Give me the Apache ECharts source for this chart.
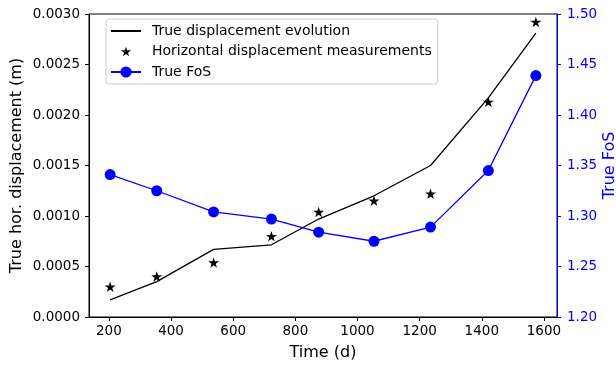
<!DOCTYPE html>
<html>
<head>
<meta charset="utf-8">
<script src="https://cdn.jsdelivr.net/npm/echarts@6/dist/echarts.min.js"></script>
<style>html,body{margin:0;padding:0;background:#fff}#c{width:616px;height:367px}</style>
</head>
<body>
<div id="c"></div>
<script>
const times = [204, 354, 537, 723, 875, 1053, 1235, 1421, 1574];
const trueDisp = [0.00017, 0.00035, 0.00067, 0.000715, 0.00097, 0.0012, 0.0015, 0.00217, 0.00281];
const measDisp = [0.0003, 0.0004, 0.00054, 0.0008, 0.00104, 0.00115, 0.00122, 0.00213, 0.00292];
const fos = [1.341, 1.325, 1.304, 1.297, 1.284, 1.275, 1.289, 1.345, 1.439];
const xTicks = [200, 400, 600, 800, 1000, 1200, 1400, 1600];
const seriesNames = ['True displacement evolution', 'Horizontal displacement measurements', 'True FoS'];

const FONT = 'DejaVu Sans';
const STAR = 'path://M50,0 L61.2,34.5 L97.6,34.5 L68.2,55.9 L79.4,90.5 L50,69.1 L20.6,90.5 L31.8,55.9 L2.4,34.5 L38.8,34.5 Z';
const STAR_LEG = 'path://M-15,-20 L-15,-19.5 L-14.5,-19.5 Z M115,110 L115,110.5 L114.5,110.5 Z M50,0 L61.2,34.5 L97.6,34.5 L68.2,55.9 L79.4,90.5 L50,69.1 L20.6,90.5 L31.8,55.9 L2.4,34.5 L38.8,34.5 Z';
const pair = (xs, ys) => xs.map((x, i) => [x, ys[i]]);

const chart = echarts.init(document.getElementById('c'), null, {renderer: 'canvas'});
chart.setOption({
  animation: false,
  backgroundColor: '#ffffff',
  grid: {left: 89, right: 59, top: 14, bottom: 50, containLabel: false, outerBoundsMode: 'none',
         show: true, borderColor: '#000', borderWidth: 1, backgroundColor: 'transparent'},
  legend: {
    orient: 'vertical', left: 106, top: 19,
    data: [
      {name: seriesNames[0], itemStyle: {opacity: 0}},
      {name: seriesNames[1], icon: STAR_LEG},
      {name: seriesNames[2]}
    ],
    itemWidth: 30, itemHeight: 14, itemGap: 6.5,
    padding: [5, 6, 5, 4],
    backgroundColor: 'rgba(255,255,255,0.85)', borderColor: '#cccccc', borderWidth: 1, borderRadius: 3,
    textStyle: {fontFamily: FONT, fontSize: 14, color: '#000', padding: [0, 0, 0, 6]}
  },
  xAxis: {
    type: 'value', min: 136, max: 1642,
    name: 'Time (d)', nameLocation: 'middle', nameGap: 28, nameMoveOverlap: false,
    nameTextStyle: {fontFamily: FONT, fontSize: 16, color: '#000'},
    axisLine: {show: true, lineStyle: {color: '#000', width: 1}},
    axisTick: {show: true, length: 4, customValues: xTicks, lineStyle: {color: '#000'}},
    axisLabel: {customValues: xTicks, fontFamily: FONT, fontSize: 13.5, color: '#000', margin: 7, formatter: v => String(v)},
    splitLine: {show: false}
  },
  yAxis: [{
    type: 'value', min: 0, max: 0.003, interval: 0.0005, position: 'left',
    name: 'True hor. displacement (m)', nameLocation: 'middle', nameGap: 64, nameMoveOverlap: false,
    nameTextStyle: {fontFamily: FONT, fontSize: 16, color: '#000'},
    axisLine: {show: true, lineStyle: {color: '#000', width: 1}},
    axisTick: {show: true, length: 4, lineStyle: {color: '#000'}},
    axisLabel: {fontFamily: FONT, fontSize: 13.5, color: '#000', margin: 9, formatter: v => v.toFixed(4)},
    splitLine: {show: false}
  }, {
    type: 'value', min: 1.2, max: 1.5, interval: 0.05, position: 'right',
    name: 'True FoS', nameLocation: 'middle', nameGap: 45, nameMoveOverlap: false,
    nameTextStyle: {fontFamily: FONT, fontSize: 16, color: '#0000ff'},
    axisLine: {show: true, lineStyle: {color: '#0000ff', width: 1}},
    axisTick: {show: true, length: 4, lineStyle: {color: '#0000ff'}},
    axisLabel: {fontFamily: FONT, fontSize: 13.5, color: '#0000ff', margin: 10, formatter: v => v.toFixed(2)},
    splitLine: {show: false}
  }],
  series: [{
    name: seriesNames[0], type: 'line', yAxisIndex: 0,
    data: pair(times, trueDisp),
    symbol: 'none', lineStyle: {color: '#000', width: 1.3}, itemStyle: {color: '#000'}
  }, {
    name: seriesNames[1], type: 'scatter', yAxisIndex: 0,
    data: pair(times, measDisp),
    symbol: STAR, symbolSize: 11, symbolKeepAspect: true, itemStyle: {color: '#000', opacity: 1}
  }, {
    name: seriesNames[2], type: 'line', yAxisIndex: 1,
    data: pair(times, fos),
    symbol: 'circle', symbolSize: 11, showSymbol: true,
    lineStyle: {color: '#0000ff', width: 1.3}, itemStyle: {color: '#0000ff'}
  }]
});
</script>
</body>
</html>
